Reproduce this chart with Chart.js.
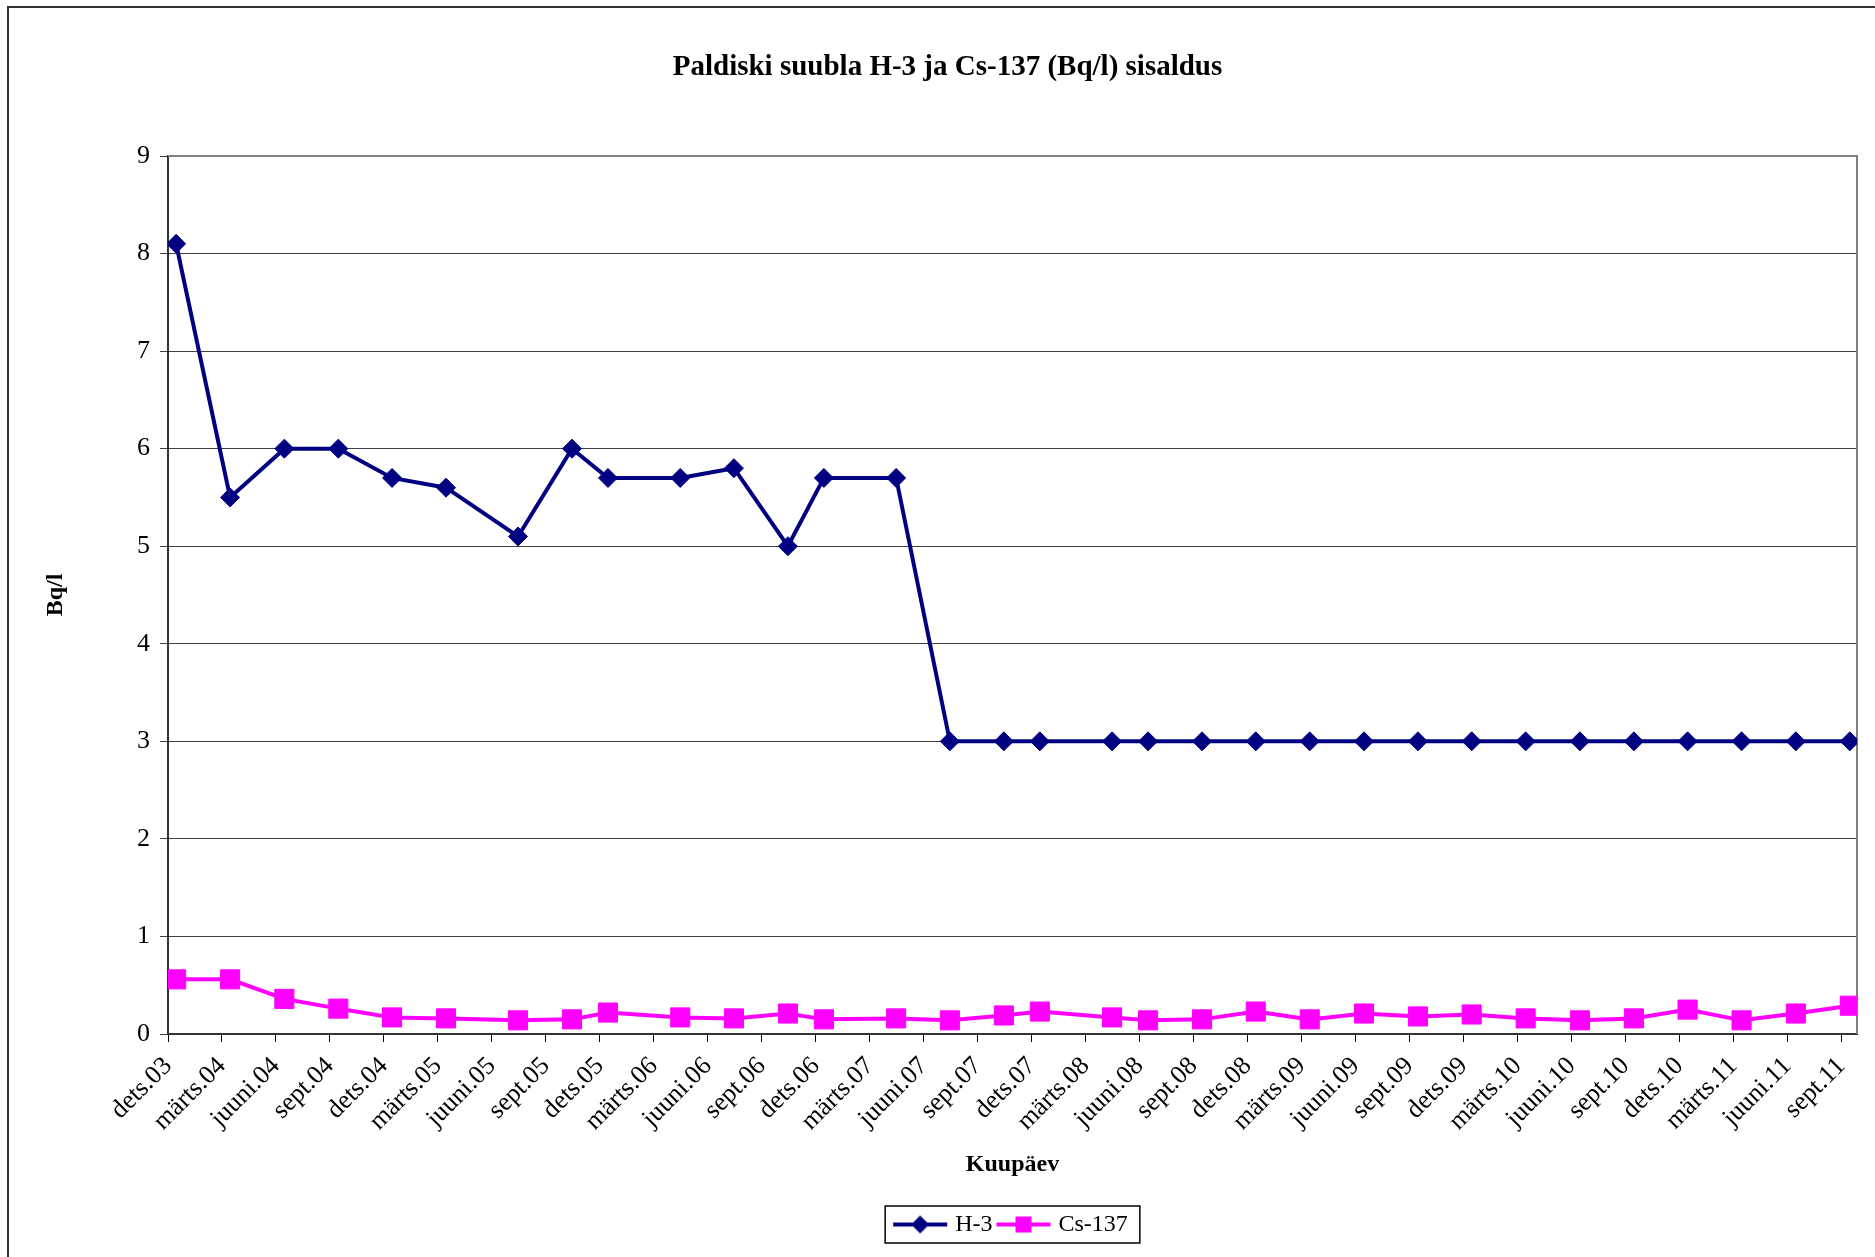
<!DOCTYPE html>
<html>
<head>
<meta charset="utf-8">
<script src="https://cdn.jsdelivr.net/npm/chart.js@4.4.1/dist/chart.umd.min.js"></script>
<style>
    html, body { margin: 0; padding: 0; background: #fff; }
    #wrap { width: 1875px; height: 1257px; }
</style>
</head>
<body>
<div id="wrap"><canvas id="graafik"></canvas></div>
<script>
// proovivõtu kuupäevad (päev kuu keskel)
const kuupaevad = [
    '2003-12-15', '2004-03-15', '2004-06-15', '2004-09-15', '2004-12-15',
    '2005-03-15', '2005-07-15', '2005-10-15', '2005-12-15', '2006-04-15',
    '2006-07-15', '2006-10-15', '2006-12-15', '2007-04-15', '2007-07-15',
    '2007-10-15', '2007-12-15', '2008-04-15', '2008-06-15', '2008-09-15',
    '2008-12-15', '2009-03-15', '2009-06-15', '2009-09-15', '2009-12-15',
    '2010-03-15', '2010-06-15', '2010-09-15', '2010-12-15', '2011-03-15',
    '2011-06-15', '2011-09-15'
];

const h3 = [
    8.1, 5.5, 6.0, 6.0, 5.7, 5.6, 5.1, 6.0, 5.7, 5.7,
    5.8, 5.0, 5.7, 5.7, 3.0, 3.0, 3.0, 3.0, 3.0, 3.0,
    3.0, 3.0, 3.0, 3.0, 3.0, 3.0, 3.0, 3.0, 3.0, 3.0,
    3.0, 3.0
];

const cs137 = [
    0.56, 0.56, 0.36, 0.26, 0.17, 0.16, 0.14, 0.15, 0.22, 0.17,
    0.16, 0.21, 0.15, 0.16, 0.14, 0.19, 0.23, 0.17, 0.14, 0.15,
    0.23, 0.15, 0.21, 0.18, 0.20, 0.16, 0.14, 0.16, 0.25, 0.14,
    0.21, 0.29
];

// telje jaotised iga 3 kuu tagant alates dets.03
const tickSildid = [
    'dets.03', 'märts.04', 'juuni.04', 'sept.04', 'dets.04', 'märts.05', 'juuni.05', 'sept.05',
    'dets.05', 'märts.06', 'juuni.06', 'sept.06', 'dets.06', 'märts.07', 'juuni.07', 'sept.07',
    'dets.07', 'märts.08', 'juuni.08', 'sept.08', 'dets.08', 'märts.09', 'juuni.09', 'sept.09',
    'dets.09', 'märts.10', 'juuni.10', 'sept.10', 'dets.10', 'märts.11', 'juuni.11', 'sept.11'
];

const teljeAlgus = '2003-12-01';
const teljeLopp = '2011-09-27';

// kuupäev -> kuud alates dets 2003
function kuudAlgusest(s) {
    const [a, k, p] = s.split('-').map(Number);
    const paevi = new Date(a, k, 0).getDate();
    return (a - 2003) * 12 + (k - 12) + (p - 1) / paevi;
}

const FONT = 'Liberation Serif, Times New Roman, serif';
Chart.defaults.font.family = FONT;
Chart.defaults.color = '#000';

function legendiIkoon(varv, kuju) {
    const c = document.createElement('canvas');
    c.width = 56;
    c.height = 24;
    const g = c.getContext('2d');
    g.strokeStyle = varv;
    g.lineWidth = 4;
    g.beginPath();
    g.moveTo(1, 12);
    g.lineTo(55, 12);
    g.stroke();
    g.fillStyle = varv;
    g.beginPath();
    if (kuju === 'romb') {
        g.moveTo(28, 3);
        g.lineTo(37, 12);
        g.lineTo(28, 21);
        g.lineTo(19, 12);
        g.closePath();
    } else {
        g.rect(20, 4, 16, 16);
    }
    g.fill();
    return c;
}

const ikoonid = [legendiIkoon('#000080', 'romb'), legendiIkoon('#ff00ff', 'ruut')];

const raamid = {
    id: 'raamid',
    beforeDraw(chart) {
        const ctx = chart.ctx;
        ctx.save();
        ctx.fillStyle = '#fff';
        ctx.fillRect(0, 0, chart.width, chart.height);
        ctx.strokeStyle = '#333';
        ctx.lineWidth = 2;
        ctx.beginPath();
        ctx.moveTo(8, chart.height);
        ctx.lineTo(8, 7);
        ctx.lineTo(chart.width, 7);
        ctx.stroke();
        ctx.restore();
    },
    beforeDatasetsDraw(chart) {
        // joonise ala ülemine ja parem serv
        const { ctx, chartArea: a } = chart;
        ctx.save();
        ctx.strokeStyle = '#808080';
        ctx.lineWidth = 2;
        ctx.beginPath();
        ctx.moveTo(a.left, a.top);
        ctx.lineTo(a.right, a.top);
        ctx.lineTo(a.right, a.bottom);
        ctx.stroke();
        ctx.restore();
    },
    afterDraw(chart) {
        // legendi kast
        const hb = chart.legend.legendHitBoxes;
        if (!hb || !hb.length) return;
        const ctx = chart.ctx;
        const viimane = hb[hb.length - 1];
        const vasak = hb[0].left - 12;
        const parem = viimane.left + viimane.width + 12;
        const kesk = hb[0].top + 12;
        ctx.save();
        ctx.strokeStyle = '#000';
        ctx.lineWidth = 1.5;
        ctx.strokeRect(vasak, kesk - 18.5, parem - vasak, 37);
        ctx.restore();
    }
};

const xMin = kuudAlgusest(teljeAlgus);
const xMax = kuudAlgusest(teljeLopp);

new Chart(document.getElementById('graafik'), {
    type: 'line',
    data: {
        datasets: [
            {
                label: 'H-3',
                data: kuupaevad.map((d, i) => ({ x: kuudAlgusest(d), y: h3[i] })),
                borderColor: '#000080',
                backgroundColor: '#000080',
                borderWidth: 4,
                pointStyle: 'rectRot',
                pointRadius: 9.5,
                pointBorderWidth: 1,
                tension: 0
            },
            {
                label: 'Cs-137',
                data: kuupaevad.map((d, i) => ({ x: kuudAlgusest(d), y: cs137[i] })),
                borderColor: '#ff00ff',
                backgroundColor: '#ff00ff',
                borderWidth: 4,
                pointStyle: 'rect',
                pointRadius: 13.5,
                pointBorderWidth: 1,
                tension: 0
            }
        ]
    },
    options: {
        responsive: true,
        maintainAspectRatio: false,
        animation: false,
        events: [],
        layout: { padding: { left: 38, right: 18, top: 0, bottom: 10.5 } },
        plugins: {
            tooltip: { enabled: false },
            title: {
                display: true,
                text: 'Paldiski suubla H-3 ja Cs-137 (Bq/l) sisaldus',
                font: { family: FONT, size: 29, weight: 'bold' },
                color: '#000',
                padding: { top: 50.6, bottom: 70.6 }
            },
            legend: {
                position: 'bottom',
                fullSize: false,
                labels: {
                    usePointStyle: true,
                    pointStyleWidth: 46,
                    padding: 8,
                    color: '#000',
                    font: { family: FONT, size: 24 },
                    generateLabels: chart => chart.data.datasets.map((ds, i) => ({
                        text: ds.label,
                        pointStyle: ikoonid[i],
                        datasetIndex: i,
                        hidden: false,
                        lineWidth: 0,
                        fillStyle: 'transparent',
                        strokeStyle: 'transparent'
                    }))
                }
            }
        },
        scales: {
            x: {
                type: 'linear',
                min: xMin,
                max: xMax,
                afterBuildTicks: scale => {
                    scale.ticks = tickSildid.map((s, i) => ({ value: i * 3 }));
                },
                afterFit: scale => { scale.height = 170.5; },
                ticks: {
                    autoSkip: false,
                    minRotation: 45,
                    maxRotation: 45,
                    padding: 9,
                    color: '#000',
                    font: { family: FONT, size: 26 },
                    callback: (v, i) => tickSildid[i]
                },
                grid: {
                    drawOnChartArea: false,
                    drawTicks: true,
                    tickLength: 8,
                    color: '#000',
                    lineWidth: 1
                },
                border: { color: '#333', width: 2 },
                title: {
                    display: true,
                    text: 'Kuupäev',
                    color: '#000',
                    font: { family: FONT, size: 24, weight: 'bold' },
                    padding: { top: 0, bottom: 25 }
                }
            },
            y: {
                min: 0,
                max: 9,
                afterFit: scale => { scale.width = 130; },
                ticks: {
                    stepSize: 1,
                    padding: 10,
                    color: '#000',
                    font: { family: FONT, size: 26 }
                },
                grid: {
                    color: '#404040',
                    lineWidth: 1,
                    tickLength: 8
                },
                border: { color: '#333', width: 2 },
                title: {
                    display: true,
                    text: 'Bq/l',
                    color: '#000',
                    font: { family: FONT, size: 24, weight: 'bold' },
                    padding: { top: 3.6, bottom: 0 }
                }
            }
        }
    },
    plugins: [raamid]
});
</script>
</body>
</html>
